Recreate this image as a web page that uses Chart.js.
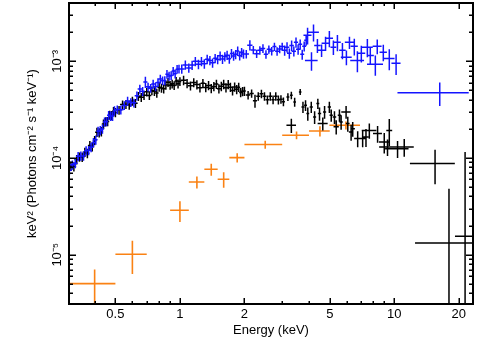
<!DOCTYPE html>
<html><head><meta charset="utf-8">
<script src="https://cdn.jsdelivr.net/npm/chart.js@4.4.1/dist/chart.umd.min.js"></script>
<style>html,body{margin:0;padding:0;background:#fff;overflow:hidden}canvas{display:block}</style>
</head><body>
<canvas id="c" width="477" height="338" style="width:477px;height:338px"></canvas>
<script>
// ---------- axis ranges & ticks ----------
const xMin = 0.3037, xMax = 23.3;
const yMin = 3.09e-6, yMax = 4.01e-3;
const xLabeledTicks = [0.5, 1, 2, 5, 10, 20];
const xTickLabels = ['0.5', '1', '2', '5', '10', '20'];
const xMinorTicks = [0.4, 0.6, 0.7, 0.8, 0.9, 3, 4, 6, 7, 8, 9];
const yLabeledTicks = [1e-5, 1e-4, 1e-3];
const yTickLabels = ['10\u207B\u2075', '10\u207B\u2074', '10\u207B\u00B3'];
const yMinorTicks = [4e-6,5e-6,6e-6,7e-6,8e-6,9e-6,2e-5,3e-5,4e-5,5e-5,6e-5,7e-5,8e-5,9e-5,2e-4,3e-4,4e-4,5e-4,6e-4,7e-4,8e-4,9e-4,2e-3,3e-3,4e-3];
const xTitle = 'Energy (keV)';
const yTitle = 'keV\u00B2 (Photons cm\u207B\u00B2 s\u207B\u00B9 keV\u207B\u00B9)';

// ---------- black series ----------
const blackE = [0.31,0.32,0.33,0.34,0.35,0.36,0.37,0.38,0.39,0.40,0.41,0.42,0.43,0.44,0.45,0.46,0.47,0.48,0.49,0.50,
0.52,0.54,0.56,0.58,0.60,0.62,0.64,0.66,0.68,0.70,0.72,0.74,0.76,0.78,0.80,0.82,0.84,0.86,0.88,0.90,0.92,0.94,0.96,0.98,1.00,
1.04,1.08,1.12,1.16,1.20,1.24,1.28,1.32,1.36,1.40,1.44,1.48,1.52,1.56,1.60,1.64,1.68,1.72,1.76,1.80,1.84,1.88,1.92,1.96,2.00,
2.08,2.16,2.24,2.32,2.40,2.48,2.56,2.64,2.72,2.80,2.88,2.96,3.04,
3.19,3.31,3.43,3.64,3.31,3.75,3.855,3.95,4.10,4.25,4.40,4.48,4.64,4.73,4.98,5.08,5.26,5.36,5.55,5.65,5.96,6.07,6.40,6.29,6.75,7.12,7.38,7.65,8.36,8.98,9.48,9.30,10.36,11.13,
15.5,18.0,21.4];
const blackF = [8.24e-5,8.16e-5,9.65e-5,1.03e-4,1.02e-4,1.15e-4,1.12e-4,1.35e-4,1.31e-4,1.52e-4,1.85e-4,1.83e-4,1.88e-4,2.25e-4,2.38e-4,2.39e-4,2.78e-4,2.76e-4,3.04e-4,2.96e-4,
3.13e-4,3.57e-4,3.60e-4,3.53e-4,3.89e-4,3.68e-4,4.35e-4,4.25e-4,4.45e-4,4.83e-4,4.44e-4,4.97e-4,4.89e-4,4.70e-4,5.40e-4,5.30e-4,5.20e-4,5.68e-4,6.07e-4,5.67e-4,5.85e-4,5.63e-4,6.24e-4,5.86e-4,6.20e-4,
6.37e-4,5.93e-4,5.59e-4,6.04e-4,5.75e-4,5.34e-4,5.93e-4,5.37e-4,5.63e-4,5.25e-4,5.50e-4,5.82e-4,5.21e-4,5.52e-4,5.79e-4,5.34e-4,5.77e-4,5.40e-4,4.98e-4,5.43e-4,5.13e-4,5.40e-4,4.77e-4,4.90e-4,4.92e-4,
4.48e-4,4.66e-4,3.90e-4,4.35e-4,4.62e-4,4.35e-4,4.00e-4,4.35e-4,4.01e-4,4.35e-4,4.00e-4,4.05e-4,3.82e-4,
4.28e-4,4.45e-4,3.79e-4,4.82e-4,2.18e-4,3.37e-4,3.51e-4,2.88e-4,3.37e-4,2.65e-4,3.66e-4,2.88e-4,2.27e-4,2.99e-4,3.37e-4,2.77e-4,2.65e-4,2.10e-4,2.77e-4,2.36e-4,2.99e-4,2.27e-4,2.01e-4,1.86e-4,1.59e-4,1.59e-4,1.65e-4,1.93e-4,1.79e-4,1.46e-4,1.93e-4,1.30e-4,1.25e-4,1.30e-4,
8.75e-5,1.32e-5,1.55e-5];
const blackEx = [0.008,0.008,0.008,0.008,0.008,0.008,0.008,0.008,0.008,0.008,0.008,0.008,0.008,0.008,0.008,0.008,0.008,0.008,0.008,0.008,
0.015,0.015,0.015,0.015,0.015,0.015,0.015,0.015,0.015,0.015,0.015,0.015,0.015,0.015,0.015,0.015,0.015,0.015,0.015,0.015,0.015,0.015,0.015,0.015,0.015,
0.03,0.03,0.03,0.03,0.03,0.03,0.03,0.03,0.03,0.03,0.03,0.03,0.03,0.03,0.03,0.03,0.03,0.03,0.03,0.03,0.03,0.03,0.03,0.03,0.03,
0.05,0.05,0.05,0.05,0.05,0.05,0.05,0.05,0.05,0.05,0.05,0.05,0.05,
0.05,0.05,0.05,0.05,0.17,0.06,0.06,0.06,0.07,0.07,0.07,0.08,0.25,0.08,0.09,0.09,0.1,0.15,0.1,0.1,0.3,0.12,0.15,0.15,0.25,0.2,0.2,0.6,0.4,0.5,0.3,0.8,1.3,1.2,
3.67,5.5,2.2];
const blackFe = [9.1e-6,9.0e-6,1.06e-5,1.13e-5,1.12e-5,1.27e-5,1.23e-5,1.49e-5,1.44e-5,1.67e-5,2.0e-5,2.0e-5,2.1e-5,2.5e-5,2.6e-5,2.6e-5,3.0e-5,3.0e-5,3.3e-5,3.2e-5,
3.3e-5,3.7e-5,3.8e-5,3.7e-5,4.1e-5,3.9e-5,4.6e-5,4.5e-5,4.7e-5,5.1e-5,4.7e-5,5.2e-5,5.1e-5,4.9e-5,5.7e-5,5.6e-5,5.5e-5,6.0e-5,6.4e-5,6.0e-5,6.1e-5,5.9e-5,6.6e-5,6.2e-5,6.5e-5,
7.0e-5,6.5e-5,6.1e-5,6.6e-5,6.3e-5,5.9e-5,6.5e-5,5.9e-5,6.2e-5,5.8e-5,6.1e-5,6.4e-5,5.7e-5,6.1e-5,6.4e-5,5.9e-5,6.3e-5,5.9e-5,5.5e-5,6.0e-5,5.6e-5,5.9e-5,5.2e-5,5.4e-5,5.4e-5,
4.5e-5,4.6e-5,6.0e-5,4.4e-5,4.6e-5,4.4e-5,4.2e-5,4.4e-5,4.2e-5,4.4e-5,4.2e-5,4.2e-5,4.0e-5,
4.0e-5,4.0e-5,4.0e-5,3.4e-5,3.7e-5,4.5e-5,4.5e-5,4.5e-5,4.5e-5,4.0e-5,4.5e-5,4.5e-5,3.5e-5,4.5e-5,4.5e-5,4.0e-5,4.0e-5,3.5e-5,4.0e-5,4.0e-5,4.5e-5,4.0e-5,3.5e-5,3.5e-5,3.0e-5,3.0e-5,3.5e-5,3.5e-5,3.5e-5,3.5e-5,6.0e-5,2.5e-5,2.5e-5,2.7e-5,
3.4e-5,3.5e-5,1.0e-4];

// ---------- blue series ----------
const blueE = [0.305,0.315,0.325,0.335,0.345,0.355,0.365,0.375,0.385,0.395,0.405,0.415,0.425,0.435,0.445,0.455,0.465,0.475,0.485,0.495,
0.51,0.53,0.55,0.57,0.59,0.61,0.63,0.65,0.67,0.69,0.71,0.73,0.75,0.77,0.79,0.81,0.83,0.85,0.87,0.89,0.91,0.93,0.95,0.97,0.99,
1.02,1.06,1.10,1.14,1.18,1.22,1.26,1.30,1.34,1.38,1.42,1.46,1.50,1.54,1.58,1.62,1.66,1.70,1.74,1.78,1.82,1.86,1.90,1.94,1.98,
2.04,2.12,2.20,2.28,2.36,2.44,2.52,2.60,2.68,2.76,2.84,2.92,3.00,
3.08,3.16,3.24,3.32,3.40,3.48,3.56,3.64,3.72,3.80,3.88,
3.94,4.20,4.11,4.38,4.58,4.78,4.98,5.20,5.43,5.73,5.98,6.18,6.51,6.73,7.02,7.49,7.73,8.33,8.16,8.89,9.48,10.2,
16.3];
const blueF = [7.46e-5,8.50e-5,8.80e-5,1.04e-4,1.05e-4,1.05e-4,1.19e-4,1.20e-4,1.29e-4,1.45e-4,1.54e-4,1.89e-4,1.93e-4,2.00e-4,2.36e-4,2.39e-4,2.77e-4,2.72e-4,2.72e-4,3.09e-4,
3.17e-4,3.15e-4,3.50e-4,3.88e-4,3.76e-4,3.72e-4,4.40e-4,5.17e-4,4.90e-4,6.11e-4,5.45e-4,5.28e-4,5.84e-4,5.49e-4,6.05e-4,6.56e-4,6.30e-4,6.34e-4,7.36e-4,7.05e-4,7.13e-4,7.92e-4,7.44e-4,8.29e-4,8.35e-4,
8.35e-4,9.18e-4,8.54e-4,9.15e-4,1.00e-3,9.33e-4,9.98e-4,9.44e-4,1.05e-3,1.02e-3,9.64e-4,1.075e-3,1.045e-3,1.14e-3,1.054e-3,1.12e-3,1.157e-3,1.061e-3,1.206e-3,1.138e-3,1.18e-3,1.278e-3,1.145e-3,1.239e-3,1.192e-3,
1.19e-3,1.47e-3,1.31e-3,1.20e-3,1.30e-3,1.36e-3,1.18e-3,1.33e-3,1.28e-3,1.42e-3,1.27e-3,1.34e-3,1.42e-3,
1.30e-3,1.40e-3,1.21e-3,1.46e-3,1.27e-3,1.57e-3,1.33e-3,1.50e-3,1.18e-3,1.43e-3,1.65e-3,
1.86e-3,2.00e-3,1.02e-3,1.46e-3,1.30e-3,1.54e-3,1.73e-3,1.40e-3,1.57e-3,1.30e-3,1.10e-3,1.57e-3,1.43e-3,1.02e-3,1.21e-3,1.40e-3,1.15e-3,1.43e-3,9.31e-4,1.24e-3,1.07e-3,9.53e-4,
4.74e-4];
const blueEx = [0.008,0.008,0.008,0.008,0.008,0.008,0.008,0.008,0.008,0.008,0.008,0.008,0.008,0.008,0.008,0.008,0.008,0.008,0.008,0.008,
0.015,0.015,0.015,0.015,0.015,0.015,0.015,0.015,0.015,0.015,0.015,0.015,0.015,0.015,0.015,0.015,0.015,0.015,0.015,0.015,0.015,0.015,0.015,0.015,0.015,
0.03,0.03,0.03,0.03,0.03,0.03,0.03,0.03,0.03,0.03,0.03,0.03,0.03,0.03,0.03,0.03,0.03,0.03,0.03,0.03,0.03,0.03,0.03,0.03,0.03,
0.06,0.06,0.06,0.06,0.06,0.06,0.06,0.06,0.06,0.06,0.06,0.06,0.06,
0.08,0.08,0.08,0.08,0.08,0.08,0.08,0.08,0.08,0.08,0.08,
0.17,0.25,0.28,0.15,0.2,0.2,0.2,0.16,0.2,0.2,0.35,0.3,0.25,0.5,0.3,0.45,0.3,0.4,0.7,0.35,0.55,0.5,
5.95];
const blueFe = [8.2e-6,9.4e-6,9.7e-6,1.14e-5,1.16e-5,1.16e-5,1.31e-5,1.32e-5,1.42e-5,1.6e-5,1.7e-5,2.1e-5,2.1e-5,2.2e-5,2.6e-5,2.6e-5,3.0e-5,3.0e-5,3.0e-5,3.4e-5,
3.3e-5,3.3e-5,3.7e-5,4.1e-5,3.9e-5,3.9e-5,4.6e-5,5.4e-5,5.1e-5,8.0e-5,5.7e-5,5.5e-5,6.1e-5,5.8e-5,6.4e-5,6.9e-5,6.6e-5,6.7e-5,7.7e-5,7.4e-5,7.5e-5,8.3e-5,7.8e-5,8.7e-5,8.8e-5,
9.2e-5,1.01e-4,9.4e-5,1.0e-4,1.1e-4,1.03e-4,1.1e-4,1.04e-4,1.16e-4,1.12e-4,1.06e-4,1.18e-4,1.15e-4,1.25e-4,1.16e-4,1.23e-4,1.27e-4,1.17e-4,1.33e-4,1.25e-4,1.3e-4,1.41e-4,1.26e-4,1.36e-4,1.31e-4,
1.2e-4,1.8e-4,1.3e-4,1.2e-4,1.3e-4,1.4e-4,1.2e-4,1.3e-4,1.3e-4,1.4e-4,1.3e-4,1.3e-4,1.4e-4,
1.6e-4,1.7e-4,1.5e-4,1.8e-4,1.5e-4,1.9e-4,1.6e-4,1.8e-4,1.4e-4,1.7e-4,2.0e-4,
3.7e-4,4.0e-4,2.2e-4,2.4e-4,1.9e-4,2.6e-4,3.3e-4,2.4e-4,3.0e-4,2.5e-4,1.9e-4,2.3e-4,2.8e-4,2.5e-4,2.4e-4,3.0e-4,2.2e-4,2.5e-4,2.2e-4,2.4e-4,2.6e-4,2.3e-4,
1.3e-4];

// ---------- orange series ----------
const orangeE  = [0.4, 0.6, 1.0, 1.2, 1.4, 1.6, 1.85, 2.5, 3.5, 4.5, 5.95];
const orangeEx = [0.1, 0.1, 0.1, 0.1, 0.1, 0.1, 0.15, 0.5, 0.5, 0.5, 0.97];
const orangeF  = [5.02e-6, 1.01e-5, 2.88e-5, 5.65e-5, 7.64e-5, 6.03e-5, 1.01e-4, 1.38e-4, 1.72e-4, 1.90e-4, 2.18e-4];
const orangeFe = [2.0e-6, 3.8e-6, 7.0e-6, 8.0e-6, 1.1e-5, 1.1e-5, 1.1e-5, 1.3e-5, 1.6e-5, 2.3e-5, 2.1e-5];

// ---------- build datasets ----------
function pts(E, Ex, F, Fe) { return E.map((e, i) => ({x: e, y: F[i], xe: Ex[i], ye: Fe[i]})); }
const FONT = '"Liberation Sans", Arial, Helvetica, sans-serif';

const errorBars = {
  id: 'errorBars',
  afterDatasetsDraw(chart) {
    const {ctx, chartArea: a, scales: {x, y}} = chart;
    ctx.save();
    ctx.beginPath(); ctx.rect(a.left, a.top, a.right - a.left, a.bottom - a.top); ctx.clip();
    const ds = chart.data.datasets;
    for (let k = ds.length - 1; k >= 0; k--) {
      const d = ds[k];
      ctx.strokeStyle = d.borderColor; ctx.lineWidth = d.barWidth; ctx.lineCap = 'butt';
      ctx.beginPath();
      d.data.forEach(p => {
        const px = x.getPixelForValue(p.x), py = y.getPixelForValue(p.y);
        const lo = p.x - p.xe;
        const x0 = lo > 0 ? x.getPixelForValue(lo) : a.left - 5;
        const x1 = x.getPixelForValue(p.x + p.xe);
        const ylo = p.y - p.ye;
        const y0 = ylo > 0 ? y.getPixelForValue(ylo) : a.bottom + 5;
        const y1 = y.getPixelForValue(p.y + p.ye);
        ctx.moveTo(x0, py); ctx.lineTo(x1, py);
        ctx.moveTo(px, y0); ctx.lineTo(px, y1);
      });
      ctx.stroke();
    }
    ctx.restore();
  }
};

const frame = {
  id: 'frame',
  afterDraw(chart) {
    const {ctx, chartArea: a, scales: {x, y}} = chart;
    ctx.save();
    ctx.strokeStyle = '#000';
    ctx.lineWidth = 1.5;
    ctx.beginPath();
    const xt = (vals, len) => vals.forEach(v => {
      const px = Math.round(x.getPixelForValue(v)) + 0.25;
      ctx.moveTo(px, a.bottom); ctx.lineTo(px, a.bottom - len);
      ctx.moveTo(px, a.top); ctx.lineTo(px, a.top + len);
    });
    const yt = (vals, len) => vals.forEach(v => {
      const py = Math.round(y.getPixelForValue(v)) + 0.25;
      ctx.moveTo(a.left, py); ctx.lineTo(a.left + len, py);
      ctx.moveTo(a.right, py); ctx.lineTo(a.right - len, py);
    });
    xt(xLabeledTicks, 6); xt(xMinorTicks, 3);
    yt(yLabeledTicks, 7); yt(yMinorTicks, 4);
    ctx.stroke();
    ctx.lineWidth = 2;
    ctx.strokeRect(a.left, a.top, a.right - a.left, a.bottom - a.top);
    ctx.restore();
  }
};

new Chart(document.getElementById('c'), {
  type: 'scatter',
  data: {
    datasets: [
      {label: 'blue', data: pts(blueE, blueEx, blueF, blueFe), borderColor: 'rgb(20,20,255)', backgroundColor: 'rgb(20,20,255)', barWidth: 1.5, pointRadius: 0},
      {label: 'black', data: pts(blackE, blackEx, blackF, blackFe), borderColor: '#000000', backgroundColor: '#000000', barWidth: 1.5, pointRadius: 0},
      {label: 'orange', data: pts(orangeE, orangeEx, orangeF, orangeFe), borderColor: 'rgb(250,130,20)', backgroundColor: 'rgb(250,130,20)', barWidth: 1.6, pointRadius: 0}
    ]
  },
  options: {
    responsive: false, animation: false, devicePixelRatio: 1,
    layout: {padding: {left: 0, right: 4, top: 3, bottom: 0}},
    plugins: {legend: {display: false}, tooltip: {enabled: false}},
    scales: {
      x: {
        type: 'logarithmic', min: xMin, max: xMax, bounds: 'data',
        afterBuildTicks: s => { s.ticks = xLabeledTicks.map(v => ({value: v})); },
        afterFit: s => { s.height = 34; s.paddingLeft = 0; s.paddingRight = 0; },
        grid: {display: false, drawTicks: false}, border: {display: false},
        ticks: {autoSkip: false, minRotation: 0, maxRotation: 0, padding: 3, color: '#000',
          font: {family: FONT, size: 13}, callback: (v, i) => xTickLabels[i]},
        title: {display: true, text: xTitle, color: '#000', font: {family: FONT, size: 13, lineHeight: 1.15}, padding: {top: 0, bottom: 0}}
      },
      y: {
        type: 'logarithmic', min: yMin, max: yMax, bounds: 'data',
        afterBuildTicks: s => { s.ticks = yLabeledTicks.map(v => ({value: v})); },
        afterFit: s => { s.width = 69; s.paddingTop = 0; s.paddingBottom = 0; },
        grid: {display: false, drawTicks: false}, border: {display: false},
        ticks: {autoSkip: false, minRotation: 90, maxRotation: 90, crossAlign: 'center', padding: 0, color: '#000',
          font: {family: FONT, size: 13}, callback: (v, i) => yTickLabels[i]},
        title: {display: true, text: yTitle, color: '#000', font: {family: FONT, size: 13, lineHeight: 1.15}, padding: {top: 25, bottom: 0}}
      }
    }
  },
  plugins: [errorBars, frame]
});
</script>
</body></html>
